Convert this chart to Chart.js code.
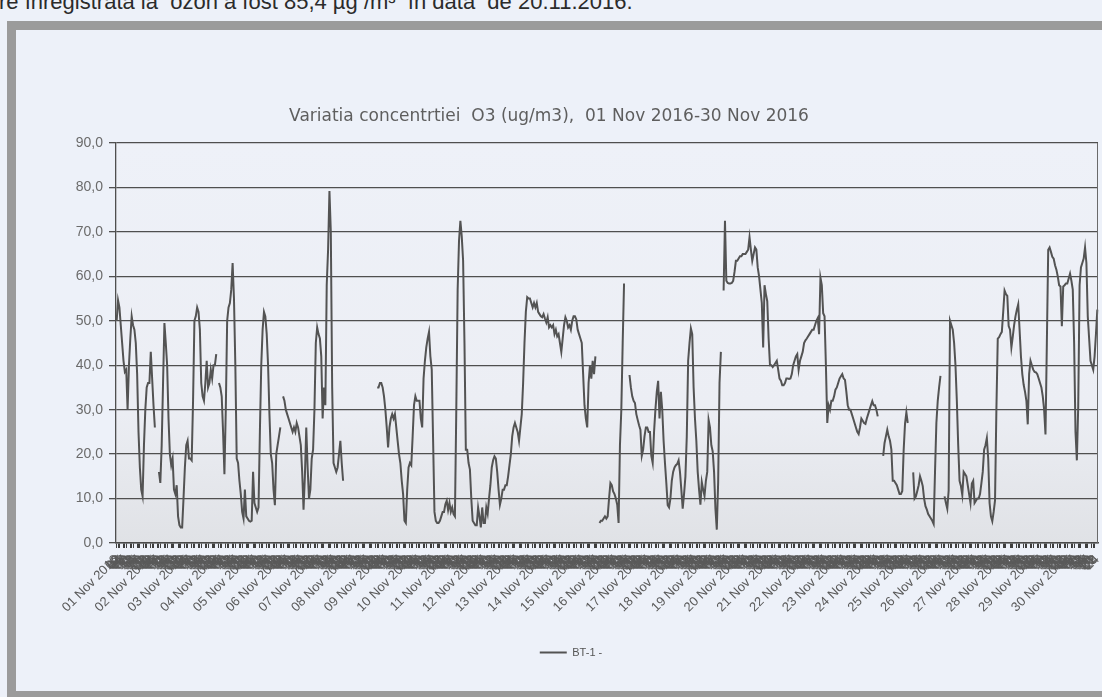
<!DOCTYPE html>
<html>
<head>
<meta charset="utf-8">
<script src="https://cdn.jsdelivr.net/npm/chart.js@4.4.1/dist/chart.umd.min.js"></script>
<style>
  html, body { margin: 0; padding: 0; }
  body { width: 1102px; height: 697px; overflow: hidden; background: #edf1f9; position: relative; font-family: "Liberation Sans", Arial, sans-serif; }
  #note { position: absolute; left: -1px; top: -11px; font-size: 22px; color: #2b2b2b; white-space: pre; }
  #frame { position: absolute; left: 7px; top: 21px; width: 1120px; height: 661px; border: 9px solid #9b9b9b; }
  #wrap { position: absolute; left: 0; top: 0; width: 1102px; height: 697px; }
</style>
</head>
<body>
<div id="note">re înregistrată la  ozon a fost 85,4 µg /m³  în data  de 20.11.2016.</div>
<div id="frame"></div>
<div id="wrap"><canvas id="o3Chart"></canvas></div>
<script>
// categories: one label per day, one per hour
const days = ['01 Nov 2016', '02 Nov 2016', '03 Nov 2016', '04 Nov 2016', '05 Nov 2016', '06 Nov 2016',
    '07 Nov 2016', '08 Nov 2016', '09 Nov 2016', '10 Nov 2016', '11 Nov 2016', '12 Nov 2016',
    '13 Nov 2016', '14 Nov 2016', '15 Nov 2016', '16 Nov 2016', '17 Nov 2016', '18 Nov 2016',
    '19 Nov 2016', '20 Nov 2016', '21 Nov 2016', '22 Nov 2016', '23 Nov 2016', '24 Nov 2016',
    '25 Nov 2016', '26 Nov 2016', '27 Nov 2016', '28 Nov 2016', '29 Nov 2016', '30 Nov 2016'];
const hours = ['01', '02', '03', '04', '05', '06', '07', '08', '09', '10', '11', '12',
    '13', '14', '15', '16', '17', '18', '19', '20', '21', '22', '23', '24'];

// hourly O3 (ug/m3), one row per day, null = no data
const o3 = [
    [50, 54.6, 53, 49, 45, 41, 38.5, 39, 30, 40, 46, 51, 49, 48, 45, 38, 25, 17, 12, 10.5, 22, 30, 35, 36],
    [36, 43, 37, 31, 26, null, null, 16, 13.5, 22, 36, 49.5, 45, 40, 28, 20, 17.5, 19, 12, 11, 13, 6, 4, 3.5],
    [3.5, 10, 17, 22, 23, 19, 19, 18.6, 32, 50, 51, 53, 52, 48, 36, 33, 32, 36, 41, 35, 36, 39, 37, 40],
    [40, 42.5, null, 36, 35, 33, 25, 15.5, 30, 50, 53, 54, 57, 63, 55, 40, 19, 18, 14, 11, 7, 5.5, 12, 6],
    [5.5, 5, 4.8, 5, 16, 9, 8, 7, 8, 25, 40, 48, 52, 51, 47, 40, 29, 20, 18, 12, 8.5, 20, 22, 24],
    [26, null, 33, 32, 30, 29, 28, 27, 26, 25, 26, 25, 27, 26, 24, 22, 16, 7.5, 15, 26, 17, 10, 12, 19],
    [21, 30, 45, 48.5, 47, 46, 42, 28, 35, 31, 58, 66, 79.2, 70, 35, 18, 17, 16, 17, 20, 23, 18, 14, null],
    [null, null, null, null, null, null, null, null, null, null, null, null,
     null, null, null, null, null, null, null, null, null, null, null, 35],
    [35, 36, 36, 35, 33, 30, 26, 21.5, 26, 28, 29, 28, 29, 26, 23, 20, 18, 14, 11, 5, 4.5, 12, 17, 18],
    [17.5, 24, 31, 33, 32, 32, 32, 28, 26, 37, 41, 44, 46, 47.5, 42, 39, 23, 7, 5, 4.5, 4.5, 5, 6, 7],
    [7, 8.7, 9.5, 7.4, 9, 7, 8, 6.5, 6, 30, 57, 68, 72.5, 69, 63.5, 45, 21, 21, 18, 16.5, 10, 5, 4.5, 4],
    [4, 8, 6, 3.5, 8, 4.5, 4.5, 8, 6.6, 10, 13, 17, 18.6, 19.5, 19, 16, 12, 8.6, 10, 12, 12, 13, 13, 15],
    [17.5, 20, 24, 26, 27, 26, 25, 23, 26, 29, 36, 45, 52, 55.3, 55, 55, 54, 53, 54, 53, 54, 52, 51.5, 51],
    [50.8, 51.5, 50.5, 49.6, 50.8, 48.5, 49, 48.5, 49, 47, 48, 46.5, 47, 45, 43, 46, 49, 50.8, 50, 48.5, 49, 48, 50, 51],
    [51, 50.3, 48, 47, 46, 45, 38, 31, 28, 26, 36, 40, 37, 41, 38, 42, null, null, 4.5, 5, 5, 5.5, 6, 5.5],
    [6, 10, 13.5, 13, 11.6, 11, 10, 8.6, 4.5, 22, 30, 45, 58.4, null, null, null, 37.8, 35, 33, 32, 31.5, 29, 27.7, 26.5],
    [25.5, 19.6, 21, 24, 26, 26, 25, 25, 19.6, 18, 25, 30, 34, 36.5, 28, 34, 30, 23, 18, 13.5, 8.5, 8, 10, 14],
    [16, 17, 17.5, 17.8, 18.6, 16, 12, 7.7, 11, 15, 24, 41, 45, 48.3, 47, 35, 28, 23, 16, 12, 8.6, 13.7, 12, 10.6],
    [14, 16, 27.7, 26, 22, 20.6, 16, 7.7, 3, 13.7, 36, 43, null, 56.8, 72.5, 59, 58.5, 58.4, 58.4, 58.5, 59, 61, 63.5, 63.5],
    [64, 64.5, 64.5, 65, 65, 65, 65.5, 66, 68.8, 66, 63.5, 65, 66.5, 66, 62, 60, 57, 54, 44, 58, 56, 54.4, 46, 40],
    [40, 39.6, 40, 40.5, 41, 39, 37, 36.5, 35.5, 35.5, 36, 37, 37, 36.9, 37, 38, 40, 41, 42, 42.5, 39, 41, 42, 43],
    [45, 45.6, 46, 46.5, 47, 47.5, 48, 48, 49, 50, 50.6, 47, 59.7, 58, 51.7, 51, 40, 27, 31, 30, 32, 32, 33, 34.5],
    [35, 36, 37, 37.5, 38, 37, 36.7, 34, 31, 30, 30, 29, 28, 27, 26, 25, 24.5, 26, 28, 27.5, 27, 26.8, 28, 29],
    [30, 31, 31.9, 31, 31, 30, 28.5, null, null, null, 19.6, 22.5, 24, 25.5, 24, 23, 21, 14, 14, 13.5, 13, 12, 11, 11],
    [11.7, 20.8, 26.8, 29.4, 27, null, null, null, 15.9, 10, 10.5, 11.7, 13, 15, 14, 12.8, 10, 8.3, 7.5, 6.5, 6, 5.5, 5, 4.3],
    [16, 27, 32, 35, 37.6, null, null, 10.5, 9, 7.7, 11.8, 50, 49, 48, 45, 40, 32, 22, 14, 12.8, 10.8, 16, 15.5, 15],
    [13, 11, 9, 13.4, 14, 9, 9.5, 10, 10, 11, 13.4, 16, 21, 22, 23.6, 19, 9, 6, 4.9, 7, 9.6, 30, 46, 46.3],
    [47, 47.5, 52, 56.8, 56, 55.6, 48.8, 48, 44, 46.4, 49, 51, 52.5, 53.7, 48, 42, 38, 35.6, 34, 32, 26.7, 38, 41, 40],
    [39, 38.5, 38.4, 38, 37, 36, 35, 33, 30, 24.4, 45, 66, 66.5, 65.5, 64.4, 64, 62.5, 61.5, 60, 58, 57.7, 48.8, 57.7, 58],
    [58.4, 58.4, 59.5, 60.6, 59, 57, 45, 25, 18.6, 30.8, 58, 62, 63, 64, 66.5, 63, 51, 46, 41, 40, 39, 42, 47, 52.5]
];

const yMin = 0, yMax = 90, yStep = 10;

// plot area background + right border, like the Excel plot area
const plotBg = {
    id: 'plotBg',
    beforeDraw(chart) {
        const { ctx, chartArea: a } = chart;
        const g = ctx.createLinearGradient(0, a.top, 0, a.bottom);
        g.addColorStop(0, '#eef1f8');
        g.addColorStop(0.65, '#eceef4');
        g.addColorStop(1, '#e0e2e6');
        ctx.save();
        ctx.fillStyle = g;
        ctx.fillRect(a.left, a.top, a.right - a.left, a.bottom - a.top);
        ctx.restore();
    },
    afterDraw(chart) {
        const { ctx, chartArea: a } = chart;
        ctx.save();
        ctx.strokeStyle = '#6a6a6a';
        ctx.lineWidth = 1;
        ctx.beginPath();
        ctx.moveTo(a.right - 0.5, a.top);
        ctx.lineTo(a.right - 0.5, a.bottom);
        ctx.stroke();
        ctx.restore();
    }
};

// the legend sits a little right of centre in the original
const legendNudge = {
    id: 'legendNudge',
    afterLayout(chart) {
        chart.legend.left += 22;
        chart.legend.right += 22;
    }
};

new Chart(document.getElementById('o3Chart'), {
    type: 'line',
    data: {
        labels: days.flatMap(d => hours.map(h => d + ' ' + h)),
        datasets: [{
            label: 'BT-1 -',
            data: o3.flat(),
            borderColor: '#535353',
            backgroundColor: '#535353',
            borderWidth: 2,
            pointRadius: 0,
            tension: 0,
            spanGaps: false,
        }]
    },
    options: {
        responsive: true,
        maintainAspectRatio: false,
        animation: false,
        layout: { padding: { left: 0, right: 4, top: 0, bottom: 29 } },
        plugins: {
            title: {
                display: true,
                text: 'Variatia concentrtiei  O3 (ug/m3),  01 Nov 2016-30 Nov 2016',
                color: '#5e5e5e',
                font: { family: 'DejaVu Sans', size: 17, weight: 'normal' },
                padding: { top: 106, bottom: 16.6 }
            },
            legend: {
                position: 'bottom',
                labels: {
                    usePointStyle: true,
                    pointStyle: 'line',
                    pointStyleWidth: 27,
                    color: '#555',
                    font: { family: 'Liberation Sans', size: 11 },
                    padding: 10
                }
            },
            tooltip: { enabled: false }
        },
        scales: {
            x: {
                offset: true,
                grid: {
                    drawOnChartArea: false,
                    drawTicks: true,
                    tickLength: 5,
                    tickColor: ctx => ctx.index % 5 < 3 ? '#3e3e3e' : 'rgba(0,0,0,0)'
                },
                border: { color: '#4a4a4a', width: 1.5 },
                ticks: {
                    autoSkip: false,
                    minRotation: 45,
                    maxRotation: 45,
                    padding: 4,
                    color: '#5a5a5a',
                    font: { family: 'Liberation Sans', size: 13 },
                    callback: (v, i) => i % 24 === 0 ? days[i / 24] : hours[i % 24]
                },
                afterFit: s => { s.height = 94; s.paddingRight = 0; }
            },
            y: {
                min: yMin,
                max: yMax,
                ticks: {
                    stepSize: yStep,
                    padding: 6,
                    color: '#6b6b6b',
                    font: { family: 'Liberation Sans', size: 14 },
                    callback: v => v.toFixed(1).replace('.', ',')
                },
                grid: { color: '#4f4f4f', lineWidth: 1.3, tickLength: 7 },
                border: { color: '#4f4f4f', width: 1.3 },
                afterFit: s => { s.width = 116; }
            }
        }
    },
    plugins: [plotBg, legendNudge]
});
</script>
</body>
</html>
